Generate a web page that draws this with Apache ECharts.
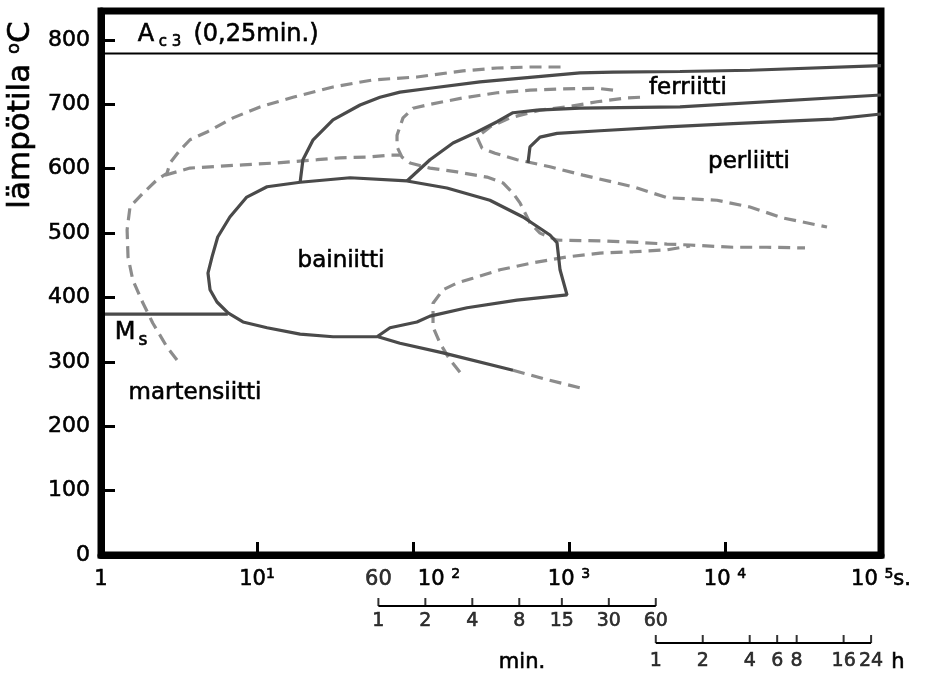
<!DOCTYPE html>
<html><head><meta charset="utf-8">
<script src="https://cdn.jsdelivr.net/npm/echarts@6/dist/echarts.min.js"></script>
<style>html,body{margin:0;padding:0;background:#fff}#c{width:941px;height:677px}</style>
</head><body><div id="c"></div>
<script>
const FONT = 'DejaVu Sans';
// x: time in seconds (log scale), y: temperature in °C
const timeRange = [1, 100000];
const tempRange = [0, 845];
const tempStep = 100;
const ac3Temp = 779;
const msLine = [[1, 374], [6.5, 374]];

const bainiteLoop = [[18.9,579],[11.6,572],[8.6,556],[6.7,525],[5.6,494],[5.15,463],[4.85,438],[5.0,412],[5.54,393],[6.52,376],[8.13,362],[11.6,353],[18.9,343],[30.7,339],[58.8,339],[71.2,353],[106,362],[128.5,371],[222,384],[464,396],[971,404],[876,443],[838,485],[755,497],[507,525],[311,551],[165,570],[91.5,581],[39.5,586],[18.9,579]];
const bainiteLower = [[59.7,339],[82.5,329],[155.7,314],[437.5,287]];
const bainiteLowerDash = [[437.5,287],[733,272],[1211,259]];
const ferriteStart = [[18.9,579],[19.7,614],[22.9,645],[30.7,676],[45.8,699],[61.4,711],[82.5,719],[128.5,725],[268.8,735],[562,742],[1176,749],[1915,750],[5146,751],[14463,753],[100000,760]];
const ferriteFinish = [[91.5,581],[128.5,614],[180.5,640],[257,657],[346,673],[437.5,687],[624,691],[1176,694],[5146,696],[100000,714.5]];
const pearliteStart = [[546,609],[562,634],[652,649],[838,655],[1580,659],[4249,665],[11253,670],[49240,677],[100000,685]];

const coolA = [[3.07,303],[2.65,323],[2.15,360],[1.86,391],[1.6,427],[1.49,463],[1.47,505],[1.535,541],[1.86,562],[2.29,583],[2.65,593],[2.77,609],[3.21,629],[3.72,645],[4.78,657],[7.02,679],[10.45,696],[17.0,711],[30.7,727],[55.4,738],[106,742.5],[209,752],[346,756.5],[562,758],[902,758]];
const coolB = [[2.57,590],[3.72,601],[5.0,603],[8.13,606],[13.4,609],[24.3,614],[34,617],[50.7,618],[71.2,621],[82.5,621]];
const coolC = [[1915,722],[1512,725],[915,724],[562,722],[346,718],[209,710],[128.5,700],[100,694],[86.3,679],[79,652],[79,634],[85,618],[95.7,609],[128.5,601],[191.5,595],[298,587],[377.5,578],[437.5,562],[485,547],[562,516],[652,500],[838,489],[1580,488],[2572,486],[4249,483],[5965,481.5],[11253,478],[18590,478],[32570,477]];
const coolD = [[2852,711],[2353,710],[1512,704],[971,696],[652,691],[419,679],[311.5,665],[257,649],[277,632],[335.5,624],[464,614],[755,603],[1229,590],[2572,572],[4249,555],[8886,551],[14463,540.5],[23540,523.5],[45070,509.5]];
const coolE = [[200,284],[172.7,303],[149,329],[134.4,354],[134.4,391],[155.7,412],[191.5,422.5],[242,430],[361,443],[588,454],[971,463],[1580,469],[2572,471],[4249,474],[5965,480]];

const secondsMark = 60;
const minTicks = [1, 2, 4, 8, 15, 30, 60];
const hourTicks = [1, 2, 4, 6, 8, 16, 24];

const chart = echarts.init(document.getElementById('c'), null, {renderer: 'canvas'});

const BORDER = {textBorderColor: '#000', textBorderWidth: 0.6};

function solid(data) {
  return {type: 'line', data, symbol: 'none', silent: true, z: 4,
    lineStyle: {color: '#4a4a4a', width: 3.2}};
}
function dashed(data) {
  return {type: 'line', data, symbol: 'none', silent: true, z: 3,
    lineStyle: {color: '#8c8c8c', width: 3.2, type: [12, 7]}};
}
const txt = (text, x, y, size, extra) => ({
  type: 'text', x, y, silent: true, z: 20,
  style: Object.assign({text, fill: '#000', stroke: '#000', lineWidth: 0.6,
    font: size + 'px "' + FONT + '"', align: 'center', verticalAlign: 'middle'}, extra || {})
});

const hiddenLog = (gi) => ({type: 'log', gridIndex: gi, min: timeRange[0], max: timeRange[1], show: false});
const hiddenVal = (gi) => ({type: 'value', gridIndex: gi, min: 0, max: 1, show: false});

function tickSeries(gi, ticks, unit, dist) {
  return [
    {type: 'line', xAxisIndex: gi, yAxisIndex: gi, symbol: 'none', silent: true,
      data: [[ticks[0] * unit, 0], [ticks[ticks.length - 1] * unit, 0]],
      lineStyle: {color: '#000', width: 2}},
    {type: 'scatter', xAxisIndex: gi, yAxisIndex: gi, silent: true,
      data: ticks.map(v => [v * unit, 0, v]),
      symbol: 'rect', symbolSize: [2, 8], symbolOffset: [0, -4],
      itemStyle: {color: '#000'},
      label: Object.assign({show: true, position: 'bottom', distance: dist, color: '#000', fontFamily: FONT, fontSize: 19,
        formatter: p => String(p.data[2])}, BORDER)}
  ];
}

const richM = Object.assign({fontFamily: FONT, fontSize: 21, lineHeight: 26, color: '#000'}, BORDER);
const richS = Object.assign({fontFamily: FONT, fontSize: 14, lineHeight: 12, verticalAlign: 'top', color: '#000'}, BORDER);
const frameLine = {show: true, lineStyle: {color: '#000', width: 7}};

const option = {
  animation: false,
  grid: [
    {left: 101, right: 60, top: 11, bottom: 122, show: true, borderColor: '#000', borderWidth: 7, containLabel: false},
    {left: 101, right: 60, top: 596, height: 10},
    {left: 101, right: 60, top: 633, height: 10}
  ],
  xAxis: [
    {type: 'log', gridIndex: 0, min: timeRange[0], max: timeRange[1], logBase: 10, z: 6,
      axisLine: frameLine,
      axisTick: {show: true, inside: true, length: 13, lineStyle: {color: '#000', width: 3}},
      splitLine: {show: false},
      axisLabel: Object.assign({margin: 12, color: '#000',
        formatter: v => {
          const e = Math.round(Math.log10(v));
          if (e === 0) return '{m|1}';
          if (e === 1) return '{m|10}{s|1}';
          if (e === 2) return '{p|}{m|10 }{s|2}';
          if (e === 5) return '{m|10 }{s|5}{m|s.}';
          return '{m|10 }{s|' + e + '}';
        },
        rich: {m: richM, s: richS, p: {width: 52, height: 10}}}, BORDER)},
    hiddenLog(1), hiddenLog(2)
  ],
  yAxis: [
    {type: 'value', gridIndex: 0, min: tempRange[0], max: tempRange[1], interval: tempStep, z: 6,
      axisLine: frameLine,
      axisTick: {show: true, inside: true, length: 14, lineStyle: {color: '#000', width: 3}},
      splitLine: {show: false},
      axisLabel: Object.assign({margin: 11, color: '#000', fontFamily: FONT, fontSize: 22,
        formatter: v => (v % tempStep === 0 ? String(v) : '')}, BORDER)},
    hiddenVal(1), hiddenVal(2)
  ],
  series: [
    dashed(coolA), dashed(coolB), dashed(coolC), dashed(coolD), dashed(coolE), dashed(bainiteLowerDash),
    solid(bainiteLoop), solid(bainiteLower), solid(ferriteStart), solid(ferriteFinish), solid(pearliteStart), solid(msLine),
    {type: 'line', symbol: 'none', silent: true, z: 5,
      data: [[timeRange[0], ac3Temp], [timeRange[1], ac3Temp]], lineStyle: {color: '#000', width: 2}},
    {type: 'scatter', silent: true, data: [[secondsMark, 0]], symbolSize: 1, itemStyle: {color: 'rgba(0,0,0,0)'},
      label: Object.assign({show: true, position: 'bottom', distance: 14, color: '#000', fontFamily: FONT, fontSize: 21,
        formatter: () => String(secondsMark)}, BORDER)},
    ...tickSeries(1, minTicks, 60, 6),
    ...tickSeries(2, hourTicks, 3600, 9)
  ],
  graphic: [
    txt('A', 146, 35, 24),
    txt('c 3', 170, 42, 15),
    txt('(0,25min.)', 256, 35, 24),
    txt('ferriitti', 688, 88, 23),
    txt('perliitti', 749, 162, 23),
    txt('bainiitti', 341, 261, 23),
    txt('martensiitti', 195, 393, 23),
    txt('M', 125, 333, 24),
    txt('s', 143, 341, 17),
    txt('min.', 522, 663, 21),
    txt('h', 898, 663, 21),
    {type: 'text', x: 21, y: 115, rotation: Math.PI / 2, silent: true, z: 20,
      style: {text: 'lämpötila {s|o}C', fill: '#000', stroke: '#000', lineWidth: 0.6,
        font: '31px "' + FONT + '"', align: 'center', verticalAlign: 'middle',
        rich: {s: {fontSize: 18, fontFamily: FONT, verticalAlign: 'top', lineHeight: 14}}}}
  ]
};
chart.setOption(option);
</script></body></html>
